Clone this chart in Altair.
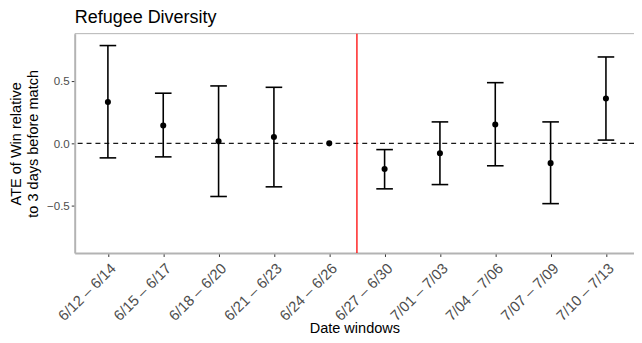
import json
import altair as alt
import pandas as pd

windows = ["6/12 – 6/14", "6/15 – 6/17", "6/18 – 6/20", "6/21 – 6/23", "6/24 – 6/26",
           "6/27 – 6/30", "7/01 – 7/03", "7/04 – 7/06", "7/07 – 7/09", "7/10 – 7/13"]
estimate = [0.33, 0.142, 0.016, 0.05, 0.0, -0.205, -0.079, 0.15, -0.158, 0.358]
ci_lower = [-0.116, -0.108, -0.424, -0.347, 0.0, -0.363, -0.329, -0.179, -0.481, 0.026]
ci_upper = [0.78, 0.40, 0.458, 0.447, 0.0, -0.05, 0.171, 0.484, 0.171, 0.689]
cutoff = [5.5]
zero_line = [0.0]

W, H = 566, 222
FONT = "Liberation Sans"

df = pd.DataFrame({
    "idx": list(range(1, len(windows) + 1)),
    "window": windows,
    "est": estimate,
    "lo": ci_lower,
    "hi": ci_upper,
})

x_scale = alt.Scale(domain=[0.4, 10.507], nice=False, zero=False)
y_scale = alt.Scale(domain=[-0.875, 0.875], nice=False, zero=False)
label_expr = json.dumps(windows, ensure_ascii=False) + "[datum.value - 1]"

x_axis = alt.Axis(values=list(range(1, len(windows) + 1)), labelExpr=label_expr,
                  labelAngle=-45, labelAlign="right", labelBaseline="top",
                  labelPadding=4, labelFontSize=15, labelBound=False, labelOverlap=False,
                  title="Date windows", titleBaseline="bottom", titleY=83)
y_axis = alt.Axis(values=[-0.5, 0.0, 0.5], format=".1f", labelPadding=2,
                  title=["ATE of Win relative", "to 3 days before match"],
                  titlePadding=6, titleLineHeight=17)


def X(field):
    return alt.X(field, type="quantitative", scale=x_scale, axis=x_axis)


def Y(field):
    return alt.Y(field, type="quantitative", scale=y_scale, axis=y_axis)


zero = alt.Chart(pd.DataFrame({"z": zero_line})).mark_rule(
    color="#1a1a1a", strokeWidth=1.3, strokeDash=[5, 4]
).encode(y=Y("z"))

red = alt.Chart(pd.DataFrame({"c": cutoff})).mark_rule(
    color="#ff0000", strokeWidth=1.3
).encode(x=X("c"))

bars = alt.Chart(df).transform_filter("datum.lo != datum.hi")

stems = bars.mark_rule(color="black", strokeWidth=1.6).encode(
    x=X("idx"), y=Y("lo"), y2="hi:Q"
)

caps = bars.transform_fold(["lo", "hi"], as_=["bound", "val"]).transform_calculate(
    x0="datum.idx - 0.15", x1="datum.idx + 0.15"
).mark_rule(color="black", strokeWidth=1.6).encode(
    x=X("x0"), x2="x1:Q", y=Y("val")
)

points = alt.Chart(df).mark_circle(color="black", opacity=1, size=38).encode(
    x=X("idx"), y=Y("est")
)

top_border = alt.Chart(pd.DataFrame({"z": zero_line})).mark_rule(
    color="#b3b3b3", strokeWidth=1
).encode(x=alt.value(0), x2=alt.value(W), y=alt.value(0))

chart = alt.layer(top_border, zero, red, stems, caps, points).properties(
    width=W, height=H,
    title=alt.TitleParams("Refugee Diversity", anchor="start", frame="group",
                          font=FONT, fontSize=18.2, fontWeight="normal",
                          color="black", offset=6),
    autosize=alt.AutoSizeParams(type="none"),
    padding={"left": 67.5, "top": 24, "right": 0, "bottom": 81},
).configure_view(stroke=None).configure_axis(
    grid=False, domainColor="#b3b3b3", domainWidth=2,
    tickColor="#333333", tickSize=3.5, tickWidth=1,
    labelColor="#4d4d4d", labelFont=FONT, labelFontSize=11.7,
    titleFont=FONT, titleFontSize=14.7, titleFontWeight="normal", titleColor="black",
)

chart.save("out.html", embed_options={"renderer": "svg", "actions": False})
